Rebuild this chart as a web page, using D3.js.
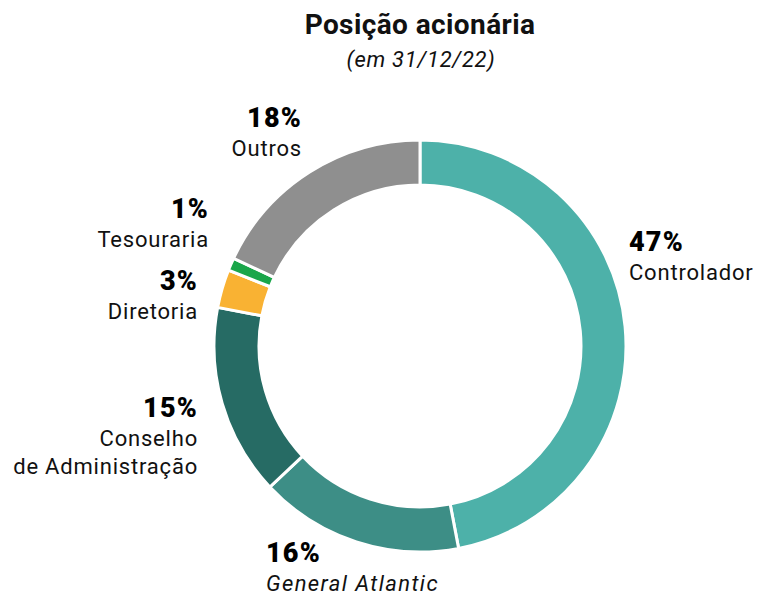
<!DOCTYPE html>
<html>
<head>
<meta charset="utf-8">
<script src="https://cdn.jsdelivr.net/npm/d3@7"></script>
<style>
  html, body { margin: 0; padding: 0; background: #fff; }
  svg { display: block; font-family: Roboto, "Noto Sans", sans-serif; }
</style>
</head>
<body>
<svg id="chart" width="758" height="595"></svg>
<script>
// Shareholding structure
const categories = ["Controlador", "General Atlantic", "Conselho\nde Administração", "Diretoria", "Tesouraria", "Outros"];
const shares = [47, 16, 15, 3, 1, 18];
const valueLabels = ["47%", "16%", "15%", "3%", "1%", "18%"];
const colors = ["#4db1a9", "#3d8e86", "#266b64", "#f9b233", "#1aa64a", "#8f8f8f"];
const italicNames = [false, true, false, false, false, false];

// Label placement: [x, baseline of the percent line, anchor]
const labelLayout = [
  [629, 251, "start"],
  [266, 562, "start"],
  [198, 417, "end"],
  [198, 290, "end"],
  [209, 218, "end"],
  [302, 127, "end"]
];

const svg = d3.select("#chart");
const cx = 420, cy = 346, outerR = 206, innerR = 161;

svg.append("text")
  .attr("x", 420).attr("y", 34)
  .attr("text-anchor", "middle")
  .attr("font-size", 28).attr("font-weight", 700)
  .attr("letter-spacing", 0.4)
  .attr("fill", "#111")
  .text("Posição acionária");

svg.append("text")
  .attr("x", 421).attr("y", 67)
  .attr("text-anchor", "middle")
  .attr("font-size", 22).attr("font-style", "italic")
  .attr("letter-spacing", 0.7)
  .attr("fill", "#111")
  .text("(em 31/12/22)");

const pie = d3.pie().sort(null).value(d => d)(shares);
const arc = d3.arc().innerRadius(innerR).outerRadius(outerR);

const g = svg.append("g").attr("transform", `translate(${cx},${cy})`);
g.selectAll("path")
  .data(pie)
  .join("path")
  .attr("d", arc)
  .attr("fill", (d, i) => colors[i])
  .attr("stroke", "#fff")
  .attr("stroke-width", 3)
  .attr("stroke-linejoin", "miter");

categories.forEach((name, i) => {
  const [x, y, anchor] = labelLayout[i];
  const t = svg.append("g");
  t.append("text")
    .attr("x", x).attr("y", y)
    .attr("text-anchor", anchor)
    .attr("font-size", 27).attr("font-weight", 900)
    .attr("letter-spacing", 1.2)
    .attr("fill", "#000")
    .text(valueLabels[i]);
  name.split("\n").forEach((line, k) => {
    t.append("text")
      .attr("x", x).attr("y", y + 29 + k * 28)
      .attr("text-anchor", anchor)
      .attr("font-size", 22)
      .attr("font-style", italicNames[i] ? "italic" : "normal")
      .attr("letter-spacing", italicNames[i] ? 1.4 : 0.8)
      .attr("fill", "#111")
      .text(line);
  });
});
</script>
</body>
</html>
